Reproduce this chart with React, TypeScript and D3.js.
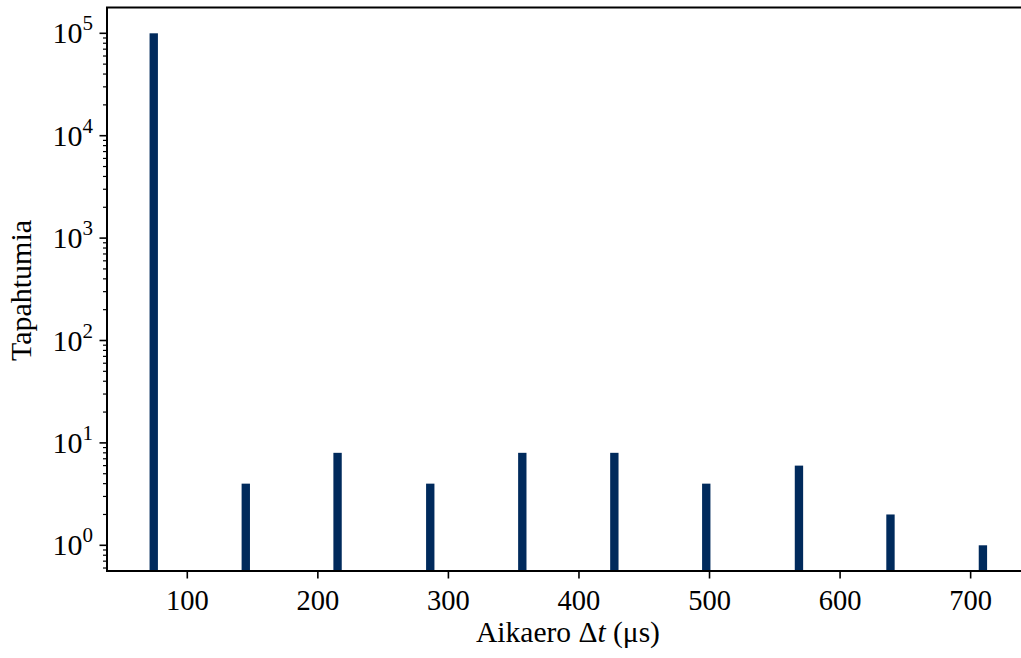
import React from "react";
import * as d3 from "d3";

const binCenters = [74.3, 144.8, 215.1, 286.1, 356.6, 427.1, 497.5, 568.5, 638.6, 709.4];
const counts = [100000, 4, 8, 4, 8, 8, 4, 6, 2, 1];
const binWidth = 6.4;
const xTicks = [100, 200, 300, 400, 500, 600, 700];
const yMajorExps = [0, 1, 2, 3, 4, 5];
const xLabel = "Aikaero";
const yLabel = "Tapahtumia";

const W = 1021, H = 658;
const left = 107, right = 1029, top = 7.5, bottom = 571;
const FONT = "Liberation Serif, Times New Roman, serif";
const BAR = "#002a5c";
const FS = 30;

export default function App() {
  const x = d3.scaleLinear().domain([38.5, 744.7]).range([left, right]);
  const y = d3.scaleLog().domain([Math.pow(10, -0.251), Math.pow(10, 5.252)]).range([bottom, top]);
  const [y0, y1] = y.domain();
  const minor: number[] = [];
  for (let e = -1; e <= 5; e++) {
    for (let m = 2; m <= 9; m++) {
      const v = m * Math.pow(10, e);
      if (v >= y0 && v <= y1) minor.push(v);
    }
  }
  return (
    <svg width={W} height={H} style={{ position: "fixed", left: 0, top: 0, display: "block", background: "#fff" }}
      fontFamily={FONT}>
      <defs>
        <clipPath id="plotclip">
          <rect x={left} y={top} width={right - left} height={bottom - top} />
        </clipPath>
      </defs>
      <g clipPath="url(#plotclip)">
        {binCenters.map((c, i) => (
          <rect key={i} x={x(c - binWidth / 2)} width={x(c + binWidth / 2) - x(c - binWidth / 2)}
            y={y(counts[i])} height={bottom - y(counts[i])} fill={BAR} />
        ))}
      </g>
      {/* spines */}
      <line x1={left} x2={left} y1={top} y2={bottom} stroke="#000" strokeWidth={2} />
      <line x1={left - 1} x2={right} y1={bottom} y2={bottom} stroke="#000" strokeWidth={2} />
      <line x1={left - 1} x2={right} y1={top} y2={top} stroke="#000" strokeWidth={2} />
      <line x1={right} x2={right} y1={top} y2={bottom} stroke="#000" strokeWidth={2} />
      {/* x ticks */}
      {xTicks.map((t) => (
        <g key={t}>
          <line x1={x(t)} x2={x(t)} y1={bottom} y2={bottom + 7.5} stroke="#000" strokeWidth={1.6} />
          <text x={x(t)} y={610} textAnchor="middle" fontSize={28.5}>{t}</text>
        </g>
      ))}
      {/* y ticks */}
      {minor.map((v, i) => (
        <line key={i} x1={left - 4} x2={left} y1={y(v)} y2={y(v)} stroke="#000" strokeWidth={1.2} />
      ))}
      {yMajorExps.map((e) => {
        const py = y(Math.pow(10, e));
        return (
          <g key={e}>
            <line x1={left - 7.5} x2={left} y1={py} y2={py} stroke="#000" strokeWidth={1.6} />
            <text x={93} y={py + 10} textAnchor="end" fontSize={FS}>
              10<tspan fontSize={21} dy={-13}>{e}</tspan>
            </text>
          </g>
        );
      })}
      {/* axis labels */}
      <text x={568} y={642} textAnchor="middle" fontSize={29.5}>
        {xLabel} Δ<tspan fontStyle="italic">t</tspan> (μs)
      </text>
      <text transform={`translate(31,290.5) rotate(-90)`} textAnchor="middle" fontSize={FS}>{yLabel}</text>
    </svg>
  );
}
